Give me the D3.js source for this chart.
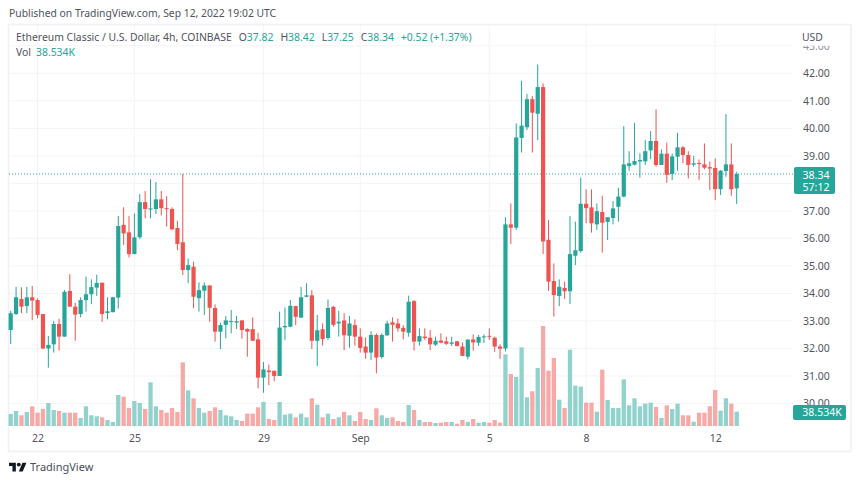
<!DOCTYPE html>
<html><head><meta charset="utf-8">
<script src="https://cdn.jsdelivr.net/npm/d3@7/dist/d3.min.js"></script>
<style>html,body{margin:0;padding:0;background:#fff}svg{display:block}text{font-family:"Noto Sans",sans-serif}</style>
</head><body><svg id="c" width="860" height="482"></svg>
<script>
const opens=[32.67,33.25,33.80,33.54,33.86,33.76,33.25,32.00,32.15,32.89,32.43,34.09,33.52,33.25,33.76,33.97,34.21,34.39,33.29,33.32,
33.85,36.49,36.22,35.43,36.04,37.32,37.05,37.07,37.42,37.10,37.07,36.38,35.86,34.85,34.97,33.83,34.10,34.29,33.47,32.61,
32.86,32.97,32.94,33.02,32.71,32.70,32.33,30.94,31.20,31.19,31.00,32.77,32.79,33.54,33.12,33.88,33.93,32.28,32.70,32.38,
33.51,32.91,33.02,32.46,32.85,32.43,32.07,31.85,32.49,31.69,32.48,32.95,32.91,32.75,32.57,33.72,32.25,32.43,32.39,32.14,
32.29,32.26,32.17,32.26,32.07,31.70,32.33,32.21,32.42,32.46,32.39,32.07,32.00,36.51,36.39,39.65,40.04,41.06,40.53,41.50,
35.95,34.45,33.91,34.20,34.08,35.37,35.54,37.26,37.13,36.51,36.96,36.60,36.74,37.15,37.52,38.63,38.68,38.80,38.80,39.20,
39.54,38.67,39.08,38.34,38.97,39.31,39.03,38.68,38.74,38.69,38.59,38.56,37.79,38.45,38.69,37.82];
const highs=[33.37,34.24,34.22,34.24,34.27,33.82,33.25,32.45,33.00,33.08,34.12,34.70,33.66,33.86,34.61,34.51,34.68,34.39,33.86,33.88,
36.81,37.13,36.81,36.91,37.61,37.72,38.15,38.05,37.72,37.54,37.13,36.64,38.34,35.27,35.15,34.40,34.40,34.30,33.60,32.94,
33.18,33.40,33.18,33.03,32.73,33.13,32.57,31.51,31.42,31.19,33.34,33.49,33.76,33.55,34.24,34.37,34.12,33.22,32.91,33.78,
33.55,33.37,33.28,33.18,33.06,32.73,32.40,32.63,32.55,32.55,33.01,33.13,33.09,32.85,33.92,33.76,32.73,32.73,32.67,32.43,
32.55,32.43,32.43,32.27,32.22,32.34,32.51,32.49,32.51,32.73,32.43,32.15,36.77,37.27,40.18,41.73,41.25,41.17,42.32,41.63,
36.67,35.09,34.51,34.43,36.81,36.61,38.21,37.78,37.78,37.27,37.55,36.77,37.36,37.84,40.08,39.17,40.20,39.09,39.57,39.90,
40.69,39.23,39.48,39.09,39.84,39.36,39.17,39.00,38.87,39.45,38.79,38.91,38.48,40.52,39.45,38.42];
const lows=[32.16,33.22,33.28,33.28,33.03,33.09,31.97,31.30,31.85,31.92,32.43,33.52,32.28,33.13,33.34,33.61,33.91,32.97,33.06,33.31,
33.45,35.76,35.31,35.43,35.99,36.73,36.73,36.89,36.83,36.43,36.30,35.58,34.67,34.37,33.46,33.34,33.22,32.97,32.25,31.98,
32.37,32.55,32.71,32.36,31.70,32.28,30.55,30.39,30.67,30.81,31.00,32.31,32.77,32.85,33.12,33.86,31.98,31.36,32.10,32.31,
32.79,32.43,31.94,32.03,32.10,31.85,31.63,31.58,31.10,31.63,32.45,32.25,32.61,32.33,32.43,31.92,32.10,32.31,31.94,32.09,
32.19,32.13,32.09,32.07,31.73,31.60,31.92,32.09,32.19,32.31,31.88,31.62,31.89,35.80,36.31,39.12,39.94,39.12,39.57,35.43,
34.09,33.16,33.54,33.80,33.62,35.03,35.48,36.55,36.21,36.31,35.48,35.94,36.51,36.61,37.49,38.46,38.65,38.21,38.67,38.88,
38.60,38.67,38.02,38.12,38.46,38.73,38.18,38.60,38.12,38.51,37.76,37.39,37.58,38.24,37.55,37.25];
const closes=[33.28,33.86,33.52,33.86,33.74,33.22,32.00,32.13,32.89,32.43,34.06,33.52,33.23,33.76,33.97,34.23,34.38,33.25,33.35,33.86,
36.45,36.18,35.43,36.04,37.32,37.07,37.09,37.42,37.10,37.08,36.33,35.80,34.85,35.03,33.88,34.12,34.29,33.48,32.61,32.85,
33.02,33.00,32.99,32.67,32.61,32.28,30.94,31.24,31.14,31.00,32.76,32.82,33.55,33.15,33.86,33.93,32.28,32.66,32.34,33.47,
32.86,32.97,32.48,32.91,32.43,32.02,31.85,32.49,31.67,32.49,32.91,32.86,32.73,32.61,33.70,32.25,32.45,32.38,32.15,32.28,
32.21,32.17,32.22,32.09,31.73,32.32,32.22,32.42,32.44,32.43,32.07,31.99,36.51,36.39,39.67,40.10,41.06,40.57,41.50,35.89,
34.43,33.94,34.24,34.08,35.43,35.57,37.26,37.10,36.55,36.99,36.57,36.77,37.09,37.52,38.69,38.73,38.81,38.85,39.17,39.54,
38.67,39.08,38.31,38.98,39.31,39.03,38.67,38.73,38.71,38.57,38.54,37.79,38.46,38.69,37.79,38.34];
const volumes=[32.3,40.3,28.7,37.6,52.9,35.8,45.7,61.8,43,40.3,35.8,35.8,35.8,21.5,52.9,28.7,26,23.3,16.1,10.8,
83.3,78.8,48.4,67.2,61.8,45.7,117.4,52.9,43,35.8,48.4,37.6,171.1,95.9,74.4,48.4,35.8,40.3,50.2,43,
28.7,26,16.1,13.4,33.2,33.2,50.2,64.5,18.8,16.1,64.5,30.5,33.2,23.3,33.2,23.3,74.4,57.3,23.3,33.2,
18.8,23.3,37.6,28.7,13.4,37.6,18.8,16.1,47.5,28.7,21.5,23.3,13.4,10.8,56.4,43,16.1,10.8,10.8,8.1,
9,10.8,10.8,6.3,16.1,10.8,18.8,9,10.8,9,16.1,9,192.6,139.8,131.7,211.5,77.1,93.2,155.9,268.8,
148.7,182.8,70.8,48.4,205.2,108.4,105.7,62.7,62.7,38.5,151.4,69.9,48.4,48.4,125.4,55.6,74.4,52.9,60,62.7,
51.1,21.5,55.6,45.7,60,28.7,28.7,11.6,35.8,35.8,52.9,96.8,41.2,74.4,60,38.534];
const dateTickBars=[5,23,47,65,89,107,131];
const dateTickLabels=["22","25","29","Sep","5","8","12"];
const gridPrices=[30,31,32,33,34,35,36,37,38,39,40,41,42,43];
const priceTicks=[30,31,32,33,34,35,36,37,39,40,41,42];
const clippedPriceTick=[43];
const lastClose=38.34;
const lastVolumeLabel="38.534K";
const countdown="57:12";
const publishedText="Published on TradingView.com, Sep 12, 2022 19:02 UTC";
const legendTitle="Ethereum Classic / U.S. Dollar, 4h, COINBASE";
const ohlcLabels=["O","H","L","C"];
const ohlcValues=["37.82","38.42","37.25","38.34"];
const changeText="+0.52 (+1.37%)";

const UP="#26a69a",DOWN="#ef5350",UPV="#92d2cc",DOWNV="#f7a9a7",GRID="#f3f4f7",TXT="#50535e";
const svg=d3.select("#c");
const x=d3.scaleLinear().domain([0,135]).range([10.7,736.7]);
const y=d3.scaleLinear().domain([30,43]).range([403.5,45.8]);
const yv=d3.scaleLinear().domain([0,268.8]).range([426,326]);
const L=9,R=793,T=25,B=429;
const idx=d3.range(closes.length);
const up=i=>closes[i]>=opens[i];

svg.append("rect").attr("x",8.5).attr("y",24.5).attr("width",842.5).attr("height",427).attr("fill","#fff").attr("stroke","#eff1f6").attr("stroke-width",1.6);
const defs=svg.append("defs");
defs.append("clipPath").attr("id","clipTop").append("rect").attr("x",795).attr("y",45.8).attr("width",50).attr("height",12);

const grid=svg.append("g");
grid.selectAll(".h").data(gridPrices).join("line").attr("x1",L).attr("x2",R)
 .attr("y1",d=>y(d)).attr("y2",d=>y(d)).attr("stroke",GRID).attr("stroke-width",1);
grid.selectAll(".v").data(dateTickBars).join("line").attr("y1",T).attr("y2",B)
 .attr("x1",d=>x(d)).attr("x2",d=>x(d)).attr("stroke",GRID).attr("stroke-width",1);

svg.append("g").selectAll("rect").data(idx).join("rect")
 .attr("x",i=>x(i)-2.15).attr("width",4.3).attr("y",i=>yv(volumes[i])).attr("height",i=>yv(0)-yv(volumes[i]))
 .attr("fill",i=>up(i)?UPV:DOWNV);

svg.append("line").attr("x1",L).attr("x2",R).attr("y1",y(lastClose)).attr("y2",y(lastClose))
 .attr("stroke",UP).attr("stroke-width",1).attr("stroke-dasharray","1 2");

svg.append("g").selectAll("line").data(idx).join("line")
 .attr("x1",i=>x(i)).attr("x2",i=>x(i)).attr("y1",i=>y(highs[i])).attr("y2",i=>y(lows[i]))
 .attr("stroke",i=>up(i)?UP:DOWN).attr("stroke-width",1);
svg.append("g").selectAll("rect").data(idx).join("rect")
 .attr("x",i=>x(i)-2.1).attr("width",4.2)
 .attr("y",i=>y(Math.max(opens[i],closes[i])))
 .attr("height",i=>Math.max(1,Math.abs(y(opens[i])-y(closes[i]))))
 .attr("fill",i=>up(i)?UP:DOWN);

const ay=svg.append("g").attr("transform","translate(793,0)")
 .call(d3.axisRight(y).tickValues(priceTicks).tickSize(0).tickPadding(10).tickFormat(d3.format(".2f")));
ay.select(".domain").remove();
ay.selectAll("text").attr("fill",TXT).style("font-size","10.5px");
const ay2wrap=svg.append("g").attr("clip-path","url(#clipTop)");
const ay2=ay2wrap.append("g").attr("transform","translate(793,0)")
 .call(d3.axisRight(y).tickValues(clippedPriceTick).tickSize(0).tickPadding(10).tickFormat(d3.format(".2f")));
ay2.select(".domain").remove();
ay2.selectAll("text").attr("fill","#8f929c").style("font-size","10.5px");

const ax=svg.append("g").attr("transform","translate(0,432)")
 .call(d3.axisBottom(x).tickValues(dateTickBars).tickSize(0).tickPadding(3).tickFormat((d,i)=>dateTickLabels[i]));
ax.select(".domain").remove();
ax.selectAll("text").attr("fill",TXT).style("font-size","10.5px");

svg.append("rect").attr("x",794).attr("y",167).attr("width",41).attr("height",27).attr("rx",2).attr("fill",UP);
svg.append("text").attr("x",816).attr("y",178.5).attr("text-anchor","middle").attr("fill","#fff").attr("font-size",10.5).text(d3.format(".2f")(lastClose));
svg.append("text").attr("x",816).attr("y",191).attr("text-anchor","middle").attr("fill","#fff").attr("font-size",10.5).text(countdown);
svg.append("rect").attr("x",793).attr("y",405).attr("width",53).attr("height",15).attr("rx",2).attr("fill",UP);
svg.append("text").attr("x",822).attr("y",416.3).attr("text-anchor","middle").attr("fill","#fff").attr("font-size",10.5).text(lastVolumeLabel);

svg.append("text").attr("x",9).attr("y",17).attr("fill",TXT).attr("font-size",10.35).text(publishedText);
const leg=svg.append("text").attr("x",16).attr("y",41).attr("fill",TXT).attr("font-size",10.4);
leg.append("tspan").text(legendTitle);
ohlcLabels.forEach((l,i)=>{
 leg.append("tspan").attr("dx",7).text(l);
 leg.append("tspan").attr("fill",UP).text(ohlcValues[i]);
});
leg.append("tspan").attr("dx",7).attr("fill",UP).text(changeText);
const vl=svg.append("text").attr("x",16).attr("y",56).attr("fill",TXT).attr("font-size",10.4);
vl.append("tspan").text("Vol");
vl.append("tspan").attr("dx",5).attr("fill",UP).text(lastVolumeLabel);
svg.append("text").attr("x",802).attr("y",41).attr("fill",TXT).attr("font-size",10.4).text("USD");

const logo=svg.append("g").attr("transform","translate(9,460.7) scale(0.49)").attr("fill","#131722");
logo.append("path").attr("d","M14 22H7V11H0V4h14v18zM28 22h-8l7.5-18h8L28 22z");
logo.append("circle").attr("cx",20).attr("cy",8).attr("r",4);
svg.append("text").attr("x",30).attr("y",471).attr("fill","#4a4e59").attr("font-size",11).text("TradingView");
</script></body></html>
